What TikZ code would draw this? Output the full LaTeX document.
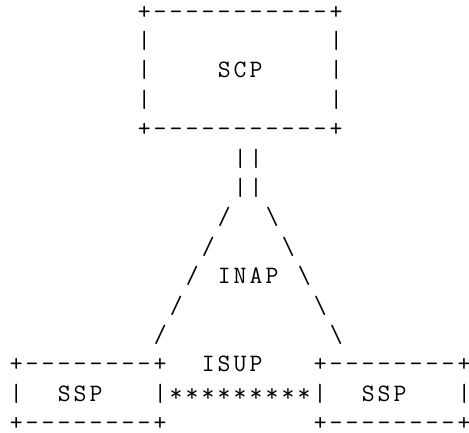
\documentclass[tikz,border=0pt]{standalone}
\usepackage{fontspec}
\makeatletter
\newcommand\monorun[1]{\@tfor\mychar:=#1\do{\makebox[16pt][c]{\mychar}}}
\makeatother
\tikzset{asc/.style={anchor=base west, inner sep=0pt, outer sep=0pt, text=black,
  font=\ttfamily\fontsize{25}{29}\selectfont}}
\newcommand\asc[4]{\node[asc] (#1) at ({(8.2+16*#2)*1pt},{-(19+29.4*#3)*1pt}) {\monorun{#4}};}
\begin{document}
\begin{tikzpicture}
\fill[white] (0,0) rectangle (469pt,-432pt);
\useasboundingbox (0,0) rectangle (469pt,-432pt);
% SCP box
\asc{scpTop}{8}{0}{+-----------+}
\asc{scpL1}{8}{1}{|}
\asc{scpR1}{20}{1}{|}
\asc{scpL2}{8}{2}{|}
\asc{scp}{13}{2}{SCP}
\asc{scpR2}{20}{2}{|}
\asc{scpL3}{8}{3}{|}
\asc{scpR3}{20}{3}{|}
\asc{scpBot}{8}{4}{+-----------+}
% double link
\asc{dbl1}{14}{5}{||}
\asc{dbl2}{14}{6}{||}
% INAP triangle
\asc{lA}{13}{7}{/}
\asc{rA}{16}{7}{\textbackslash}
\asc{lB}{12}{8}{/}
\asc{rB}{17}{8}{\textbackslash}
\asc{lC}{11}{9}{/}
\asc{inap}{13}{9}{INAP}
\asc{rC}{18}{9}{\textbackslash}
\asc{lD}{10}{10}{/}
\asc{rD}{19}{10}{\textbackslash}
\asc{lE}{9}{11}{/}
\asc{rE}{20}{11}{\textbackslash}
% SSP boxes
\asc{sspLTop}{0}{12}{+--------+}
\asc{isup}{12}{12}{ISUP}
\asc{sspRTop}{19}{12}{+--------+}
\asc{sspLl}{0}{13}{|}
\asc{sspL}{3}{13}{SSP}
\asc{isupLink}{9}{13}{|*********|}
\asc{sspR}{22}{13}{SSP}
\asc{sspRr}{28}{13}{|}
\asc{sspLBot}{0}{14}{+--------+}
\asc{sspRBot}{19}{14}{+--------+}
\end{tikzpicture}
\end{document}
